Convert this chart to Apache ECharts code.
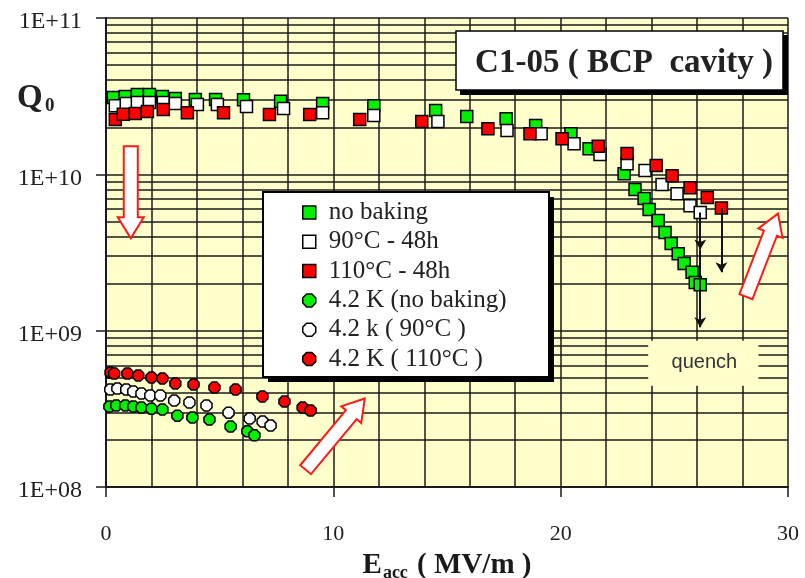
<!DOCTYPE html>
<html>
<head>
<meta charset="utf-8">
<script src="https://cdn.jsdelivr.net/npm/echarts@6/dist/echarts.min.js"></script>
<style>
  html, body { margin: 0; padding: 0; background: #ffffff; }
  #chart { width: 805px; height: 578px; }
</style>
</head>
<body>
<div id="chart"></div>
<script>
// Q0 versus accelerating gradient for cavity C1-05 (BCP), 2 K and 4.2 K

// 2 K, no baking
const noBakingE = [0.32, 0.85, 1.38, 1.91, 2.48, 3.05, 3.93, 4.82, 6.05, 7.68, 9.53, 11.78, 14.5, 15.87, 17.6, 18.9, 20.45, 21.25, 22.79, 23.27, 23.67, 23.89, 24.29, 24.59, 24.86, 25.17, 25.43, 25.78, 25.92, 26.14];
const noBakingQ = [3.10e10, 3.15e10, 3.24e10, 3.24e10, 3.15e10, 3.06e10, 3.01e10, 3.01e10, 3.0e10, 2.93e10, 2.84e10, 2.75e10, 2.56e10, 2.34e10, 2.27e10, 2.05e10, 1.82e10, 1.46e10, 1.01e10, 8.0e9, 7.0e9, 5.95e9, 5.06e9, 4.24e9, 3.61e9, 3.11e9, 2.69e9, 2.36e9, 2.03e9, 1.97e9];

// 2 K, after 90°C - 48h bake
const bake90E = [0.41, 0.89, 1.38, 1.91, 2.52, 3.05, 4.02, 4.90, 6.18, 7.81, 9.53, 11.78, 14.6, 17.64, 19.14, 20.59, 21.73, 22.92, 23.71, 24.46, 25.12, 25.69, 26.14];
const bake90Q = [2.75e10, 2.84e10, 2.88e10, 2.88e10, 2.88e10, 2.84e10, 2.80e10, 2.80e10, 2.72e10, 2.64e10, 2.48e10, 2.38e10, 2.18e10, 1.91e10, 1.82e10, 1.57e10, 1.34e10, 1.17e10, 1.06e10, 8.6e9, 7.5e9, 6.3e9, 5.7e9];

// 2 K, after 110°C - 48h bake
const bake110E = [0.41, 0.76, 1.29, 1.82, 2.52, 3.58, 5.17, 7.19, 8.96, 11.16, 13.89, 16.8, 18.65, 20.06, 21.65, 22.92, 24.2, 24.9, 25.69, 26.45, 27.07];
const bake110Q = [2.24e10, 2.42e10, 2.45e10, 2.52e10, 2.60e10, 2.48e10, 2.48e10, 2.41e10, 2.41e10, 2.24e10, 2.18e10, 1.96e10, 1.82e10, 1.69e10, 1.51e10, 1.36e10, 1.14e10, 9.8e9, 8.2e9, 7.1e9, 6.1e9];

// 4.2 K curves
const k42NoBakingE = [0.15, 0.45, 0.85, 1.2, 1.56, 2.0, 2.48, 3.14, 3.80, 4.55, 5.48, 6.22, 6.53];
const k42NoBakingQ = [3.27e8, 3.32e8, 3.32e8, 3.27e8, 3.22e8, 3.17e8, 3.13e8, 2.86e8, 2.78e8, 2.70e8, 2.44e8, 2.27e8, 2.14e8];
const k42Bake90E = [0.19, 0.50, 0.89, 1.20, 1.56, 1.95, 2.39, 3.0, 3.67, 4.42, 5.39, 6.32, 6.89, 7.24];
const k42Bake90Q = [4.20e8, 4.26e8, 4.20e8, 4.08e8, 3.96e8, 3.85e8, 3.85e8, 3.57e8, 3.47e8, 3.32e8, 2.99e8, 2.74e8, 2.62e8, 2.47e8];
const k42Bake110E = [0.2, 0.36, 0.94, 1.42, 2.0, 2.48, 3.05, 3.85, 4.77, 5.70, 6.88, 7.85, 8.65, 9.0];
const k42Bake110Q = [5.4e8, 5.32e8, 5.32e8, 5.16e8, 5.01e8, 4.94e8, 4.59e8, 4.52e8, 4.33e8, 4.20e8, 3.79e8, 3.52e8, 3.22e8, 3.08e8];

// axis ticks
const xTickValues = [0, 10, 20, 30];
const xGridStep = 2;
const yDecades = [1e8, 1e9, 1e10, 1e11];

// quench arrows: [E, Q start, Q end]
const quenchArrows = [
  [26.14, 5.7e9, 3.3e9],
  [26.14, 3.3e9, 1.05e9],
  [27.07, 6.1e9, 2.36e9]
];

// hollow arrows, in axis units: [E, Q] tail then head
const hollowArrows = [
  [[1.09, 1.51e10], [1.09, 3.9e9]],
  [[8.78, 1.29e8], [11.38, 3.68e8]],
  [[28.15, 1.65e9], [29.56, 5.61e9]]
];

const zip = (xs, ys) => xs.map((x, i) => [x, ys[i]]);

const SERIF = "'Liberation Serif', 'Times New Roman', serif";
const INK = '#1a1a1a';
const octagon = 'path://M3,0 L7,0 L10,3 L10,7 L7,10 L3,10 L0,7 L0,3 Z';

// grid lines: 2..9 within each decade, and every 2 MV/m
const gridLines = [];
for (let d = 0; d < yDecades.length - 1; d++) {
  for (let k = 2; k <= 9; k++) gridLines.push({ yAxis: k * yDecades[d] });
}
for (let e = xGridStep; e < 30; e += xGridStep) {
  if (e % 10 !== 0) gridLines.push({ xAxis: e });
}

function squareSeries(name, data, color) {
  return {
    name, type: 'scatter', data, symbol: 'rect', symbolSize: 12, z: 3,
    itemStyle: { color, borderColor: '#000', borderWidth: 1.5, opacity: 1 },
    emphasis: { disabled: true }
  };
}
function octSeries(name, data, color) {
  return {
    name, type: 'scatter', data, symbol: octagon, symbolSize: 11, z: 3,
    itemStyle: { color, borderColor: '#000', borderWidth: 1.5, opacity: 1 },
    emphasis: { disabled: true }
  };
}

const chart = echarts.init(document.getElementById('chart'), null, { renderer: 'canvas' });

const names = ['no baking', '90°C - 48h', '110°C - 48h', '4.2 K (no baking)', '4.2 k ( 90°C )', '4.2 K ( 110°C )'];

chart.setOption({
  animation: false,
  backgroundColor: '#ffffff',
  grid: {
    left: 106, right: 17, top: 18, bottom: 91,
    outerBoundsMode: 'none', containLabel: false,
    show: true, backgroundColor: '#ffffcc', borderWidth: 0
  },
  xAxis: {
    type: 'value', min: 0, max: 30, interval: 10,
    name: '{b|E}{s|acc}{b| ( MV/m )}',
    nameLocation: 'middle', nameGap: 62,
    nameTextStyle: {
      rich: {
        b: { fontFamily: SERIF, fontWeight: 'bold', fontSize: 29, color: INK, lineHeight: 32 },
        s: { fontFamily: SERIF, fontWeight: 'bold', fontSize: 18, color: INK, lineHeight: 32, padding: [14, 2, 0, 1] }
      }
    },
    axisLine: { show: true, lineStyle: { color: INK, width: 2 } },
    axisTick: { show: true, customValues: xTickValues, length: 10, lineStyle: { color: INK, width: 1.5 } },
    axisLabel: { customValues: xTickValues, margin: 36, fontFamily: SERIF, fontSize: 22, color: '#222' },
    splitLine: { show: true, lineStyle: { color: INK, width: 1.5 } }
  },
  yAxis: {
    type: 'log', logBase: 10, min: 1e8, max: 1e11,
    axisLine: { show: true, lineStyle: { color: INK, width: 2 } },
    axisTick: { show: true, length: 10, lineStyle: { color: INK, width: 1.5 } },
    axisLabel: {
      margin: 24,
      formatter: v => '{t|1E+' + String(Math.round(Math.log10(v))).padStart(2, '0') + '}',
      rich: { t: { fontFamily: SERIF, fontSize: 24, color: '#222', padding: [8, 0, 0, 0] } }
    },
    splitLine: { show: true, lineStyle: { color: INK, width: 1.5 } }
  },
  legend: {
    data: names, z: 10,
    orient: 'vertical', left: 263, top: 192,
    padding: [8, 40, 6, 39],
    itemWidth: 13, itemHeight: 13, itemGap: 4.3,
    backgroundColor: 'transparent', borderWidth: 0,
    itemStyle: { borderColor: '#000', borderWidth: 1.5 },
    textStyle: { fontFamily: SERIF, fontSize: 25, color: '#222', padding: [0, 0, 0, 8] },
    selectedMode: false
  },
  series: [
    {
      name: 'grid-lines', type: 'line', data: [], z: 1, silent: true,
      markLine: {
        z: 1, silent: true, symbol: 'none', animation: false,
        label: { show: false },
        lineStyle: { color: INK, width: 1.5, type: 'solid' },
        emphasis: { disabled: true },
        data: gridLines
      }
    },
    squareSeries(names[0], zip(noBakingE, noBakingQ), '#00f000'),
    squareSeries(names[1], zip(bake90E, bake90Q), '#ffffff'),
    squareSeries(names[2], zip(bake110E, bake110Q), '#ff0000'),
    octSeries(names[3], zip(k42NoBakingE, k42NoBakingQ), '#00f000'),
    octSeries(names[4], zip(k42Bake90E, k42Bake90Q), '#ffffff'),
    octSeries(names[5], zip(k42Bake110E, k42Bake110Q), '#ff0000'),
    {
      name: 'quench', type: 'line', data: [], z: 4, silent: true,
      markLine: {
        z: 4, silent: true, animation: false,
        symbol: ['none', 'arrow'], symbolSize: [9, 10],
        label: { show: false },
        lineStyle: { color: '#111', width: 2, type: 'solid' },
        emphasis: { disabled: true },
        data: quenchArrows.map(a => [{ coord: [a[0], a[1]] }, { coord: [a[0], a[2]] }])
      }
    }
  ]
});

// hollow block arrow between two pixel points
function blockArrow(p1, p2) {
  const dx = p2[0] - p1[0], dy = p2[1] - p1[1];
  const len = Math.hypot(dx, dy);
  const ux = dx / len, uy = dy / len, nx = -uy, ny = ux;
  const w = 7, h = 13, L = 21;
  const bx = p2[0] - ux * L, by = p2[1] - uy * L;
  return [
    [p1[0] + nx * w, p1[1] + ny * w], [bx + nx * w, by + ny * w], [bx + nx * h, by + ny * h],
    [p2[0], p2[1]],
    [bx - nx * h, by - ny * h], [bx - nx * w, by - ny * w], [p1[0] - nx * w, p1[1] - ny * w]
  ];
}

const toPx = v => chart.convertToPixel({ gridIndex: 0 }, v);
const quenchTL = toPx([23.85, 8.63e8]);
const quenchBR = toPx([28.7, 4.45e8]);

const graphics = [];
hollowArrows.forEach(a => {
  graphics.push({
    type: 'polygon', z: 50, silent: true,
    shape: { points: blockArrow(toPx(a[0]), toPx(a[1])) },
    style: { fill: '#ffffff', stroke: '#ff1a1a', lineWidth: 2 }
  });
});
// quench label
graphics.push({
  type: 'rect', z: 50, silent: true,
  shape: { x: quenchTL[0], y: quenchTL[1], width: quenchBR[0] - quenchTL[0], height: quenchBR[1] - quenchTL[1] },
  style: { fill: '#ffffcc' }
});
graphics.push({
  type: 'text', z: 51, silent: true,
  x: (quenchTL[0] + quenchBR[0]) / 2 + 1, y: (quenchTL[1] + quenchBR[1]) / 2 - 1,
  style: { text: 'quench', fill: '#333', font: "20px 'Liberation Sans', Arial, sans-serif", align: 'center', verticalAlign: 'middle' }
});
// legend frame with drop shadow
graphics.push({ type: 'rect', z: 7, silent: true, shape: { x: 268, y: 197, width: 286, height: 185 }, style: { fill: '#000' } });
graphics.push({ type: 'rect', z: 8, silent: true, shape: { x: 263, y: 192, width: 286, height: 185 }, style: { fill: '#fff', stroke: '#000', lineWidth: 2 } });
// title box with shadow
graphics.push({ type: 'rect', z: 50, silent: true, shape: { x: 460, y: 35, width: 328, height: 60 }, style: { fill: '#000' } });
graphics.push({ type: 'rect', z: 51, silent: true, shape: { x: 456, y: 31, width: 327, height: 59 }, style: { fill: '#fff', stroke: '#000', lineWidth: 1.5 } });
graphics.push({
  type: 'text', z: 52, silent: true, x: 624, y: 63,
  style: { text: 'C1-05 ( BCP  cavity )', fill: '#222', font: "bold 33px " + SERIF, align: 'center', verticalAlign: 'middle' }
});
// Q0 axis title
graphics.push({
  type: 'text', z: 52, silent: true, x: 17, y: 98,
  style: { text: 'Q', fill: '#222', font: "bold 33px " + SERIF, align: 'left', verticalAlign: 'middle' }
});
graphics.push({
  type: 'text', z: 52, silent: true, x: 45, y: 106,
  style: { text: '0', fill: '#222', font: "bold 19px " + SERIF, align: 'left', verticalAlign: 'middle' }
});

chart.setOption({ graphic: graphics });
</script>
</body>
</html>
